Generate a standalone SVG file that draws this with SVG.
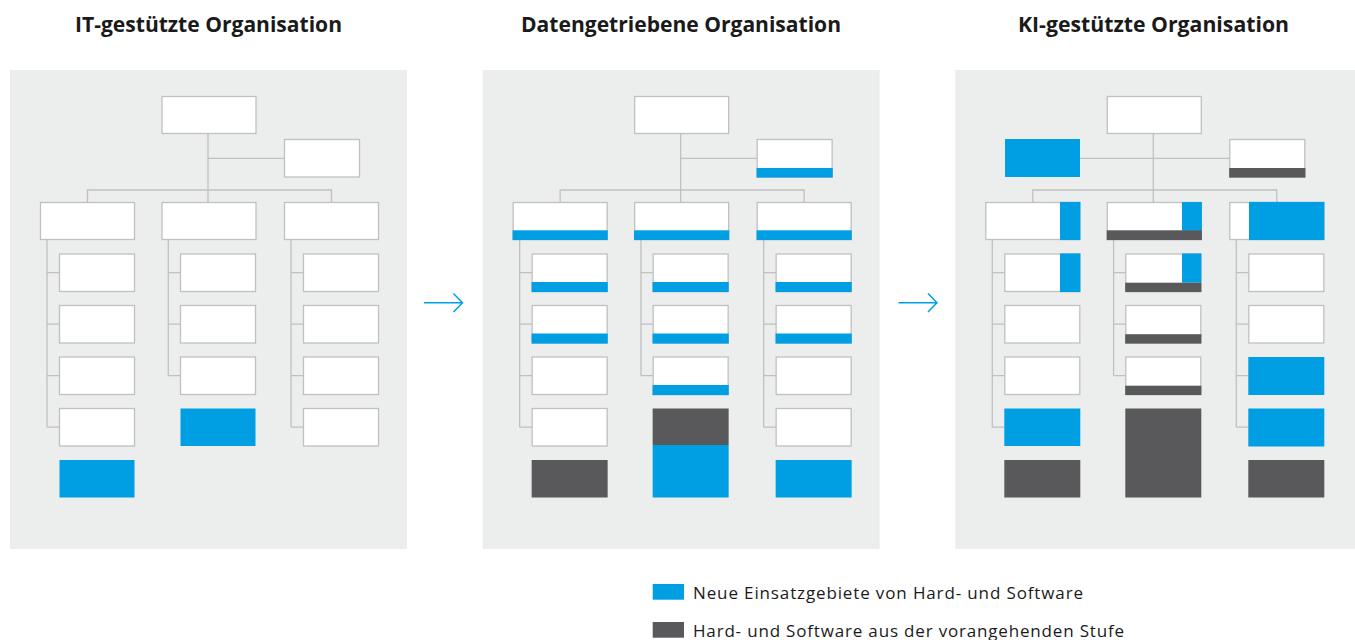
<svg xmlns="http://www.w3.org/2000/svg" width="1355" height="640" viewBox="0 0 1355 640">
<style>
.bg{fill:#eceded}
.b{fill:#fff;stroke:#c0c0c0;stroke-width:1.3}
.bl{fill:#009fe3}
.dk{fill:#59595b}
.ln{fill:none;stroke:#c0c0c0;stroke-width:1.3}
.t{font-family:"Open Sans","Noto Sans","Liberation Sans",sans-serif;font-weight:bold;font-size:20.5px;fill:#1a1a1a}
.lg{font-family:"Open Sans","Noto Sans","Liberation Sans",sans-serif;font-size:17px;fill:#1a1a1a}
.ar{fill:none;stroke:#009fe3;stroke-width:1.5}
</style>
<text class="t" x="75" y="32" textLength="267" lengthAdjust="spacingAndGlyphs">IT-gestützte Organisation</text>
<text class="t" x="521" y="32" textLength="320" lengthAdjust="spacingAndGlyphs">Datengetriebene Organisation</text>
<text class="t" x="1018" y="32" textLength="271" lengthAdjust="spacingAndGlyphs">KI-gestützte Organisation</text>

<!-- Panel 1 -->
<g id="panel1">
<rect class="bg" x="10" y="70" width="397" height="479"/>
<g class="connectors">
<path class="ln" d="M208 133.5V202.5M208 158.3H284.5M87.5 202.5V190H331.5V202.5M47 239.5V427.2M47 272.7H59.5M47 324.2H59.5M47 375.7H59.5M47 427.2H59.5M168.3 239.5V375.7M168.3 272.7H180.5M168.3 324.2H180.5M168.3 375.7H180.5M291 239.5V427.2M291 272.7H303.5M291 324.2H303.5M291 375.7H303.5M291 427.2H303.5"/>
</g>
<g id="p1-top"><rect class="b" x="162" y="96.5" width="94" height="37"/></g>
<g id="p1-side"><rect class="b" x="284.5" y="139.5" width="75" height="37.5"/></g>
<g id="p1-a"><rect class="b" x="40.5" y="202.5" width="94" height="37"/></g>
<g id="p1-b"><rect class="b" x="162" y="202.5" width="94" height="37"/></g>
<g id="p1-c"><rect class="b" x="284.5" y="202.5" width="94" height="37"/></g>
<g id="p1-a1"><rect class="b" x="59.5" y="254" width="75" height="37.5"/></g>
<g id="p1-a2"><rect class="b" x="59.5" y="305.5" width="75" height="37.5"/></g>
<g id="p1-a3"><rect class="b" x="59.5" y="357" width="75" height="37.5"/></g>
<g id="p1-a4"><rect class="b" x="59.5" y="408.5" width="75" height="37.5"/></g>
<g id="p1-a5"><rect class="bl" x="59.5" y="460" width="75" height="37.5"/></g>
<g id="p1-b1"><rect class="b" x="180.5" y="254" width="75" height="37.5"/></g>
<g id="p1-b2"><rect class="b" x="180.5" y="305.5" width="75" height="37.5"/></g>
<g id="p1-b3"><rect class="b" x="180.5" y="357" width="75" height="37.5"/></g>
<g id="p1-b4"><rect class="bl" x="180.5" y="408.5" width="75" height="37.5"/></g>
<g id="p1-c1"><rect class="b" x="303.5" y="254" width="75" height="37.5"/></g>
<g id="p1-c2"><rect class="b" x="303.5" y="305.5" width="75" height="37.5"/></g>
<g id="p1-c3"><rect class="b" x="303.5" y="357" width="75" height="37.5"/></g>
<g id="p1-c4"><rect class="b" x="303.5" y="408.5" width="75" height="37.5"/></g>
</g>

<g id="arrow1"><path class="ar" d="M424 302.7H462.5M453.5 293.5L462.5 302.7L453.5 312"/></g>
<g id="arrow2"><path class="ar" d="M898.5 302.7H937M928 293.5L937 302.7L928 312"/></g>

<!-- Panel 2 -->
<g id="panel2" transform="translate(472.65,0)">
<rect class="bg" x="10" y="70" width="397" height="479"/>
<g class="connectors">
<path class="ln" d="M208 133.5V202.5M208 158.3H284.5M87.5 202.5V190H331.5V202.5M47 239.5V427.2M47 272.7H59.5M47 324.2H59.5M47 375.7H59.5M47 427.2H59.5M168.3 239.5V375.7M168.3 272.7H180.5M168.3 324.2H180.5M168.3 375.7H180.5M291 239.5V427.2M291 272.7H303.5M291 324.2H303.5M291 375.7H303.5M291 427.2H303.5"/>
</g>
<g id="p2-top"><rect class="b" x="162" y="96.5" width="94" height="37"/></g>
<g id="p2-side"><rect class="b" x="284.5" y="139.5" width="75" height="37.5"/><rect class="bl" x="283.9" y="168" width="76.2" height="9.6"/></g>
<g id="p2-a"><rect class="b" x="40.5" y="202.5" width="94" height="37"/><rect class="bl" x="39.9" y="230.3" width="95.2" height="9.8"/></g>
<g id="p2-b"><rect class="b" x="162" y="202.5" width="94" height="37"/><rect class="bl" x="161.4" y="230.3" width="95.2" height="9.8"/></g>
<g id="p2-c"><rect class="b" x="284.5" y="202.5" width="94" height="37"/><rect class="bl" x="283.9" y="230.3" width="95.2" height="9.8"/></g>
<g id="p2-a1"><rect class="b" x="59.5" y="254" width="75" height="37.5"/><rect class="bl" x="58.9" y="282" width="76.2" height="10.1"/></g>
<g id="p2-a2"><rect class="b" x="59.5" y="305.5" width="75" height="37.5"/><rect class="bl" x="58.9" y="333.5" width="76.2" height="10.1"/></g>
<g id="p2-a3"><rect class="b" x="59.5" y="357" width="75" height="37.5"/></g>
<g id="p2-a4"><rect class="b" x="59.5" y="408.5" width="75" height="37.5"/></g>
<g id="p2-a5"><rect class="dk" x="59" y="460" width="76" height="37.5"/></g>
<g id="p2-b1"><rect class="b" x="180.5" y="254" width="75" height="37.5"/><rect class="bl" x="179.9" y="282" width="76.2" height="10.1"/></g>
<g id="p2-b2"><rect class="b" x="180.5" y="305.5" width="75" height="37.5"/><rect class="bl" x="179.9" y="333.5" width="76.2" height="10.1"/></g>
<g id="p2-b3"><rect class="b" x="180.5" y="357" width="75" height="37.5"/><rect class="bl" x="179.9" y="385" width="76.2" height="10.1"/></g>
<g id="p2-b4"><rect class="dk" x="180" y="408.5" width="76" height="36.5"/><rect class="bl" x="180" y="445" width="76" height="52.5"/></g>
<g id="p2-c1"><rect class="b" x="303.5" y="254" width="75" height="37.5"/><rect class="bl" x="302.9" y="282" width="76.2" height="10.1"/></g>
<g id="p2-c2"><rect class="b" x="303.5" y="305.5" width="75" height="37.5"/><rect class="bl" x="302.9" y="333.5" width="76.2" height="10.1"/></g>
<g id="p2-c3"><rect class="b" x="303.5" y="357" width="75" height="37.5"/></g>
<g id="p2-c4"><rect class="b" x="303.5" y="408.5" width="75" height="37.5"/></g>
<g id="p2-c5"><rect class="bl" x="303" y="460" width="76" height="37.5"/></g>
</g>

<!-- Panel 3 -->
<g id="panel3" transform="translate(945.3,0)">
<rect class="bg" x="10" y="70" width="400" height="479"/>
<g class="connectors">
<path class="ln" d="M208 133.5V202.5M134.7 158.3H284.5M87.5 202.5V190H331.5V202.5M47 239.5V427.2M47 272.7H59.5M47 324.2H59.5M47 375.7H59.5M47 427.2H59.5M168.3 239.5V375.7M168.3 272.7H180.5M168.3 324.2H180.5M168.3 375.7H180.5M291 239.5V427.2M291 272.7H303.5M291 324.2H303.5M291 375.7H303.5M291 427.2H303.5"/>
</g>
<g id="p3-top"><rect class="b" x="162" y="96.5" width="94" height="37"/></g>
<g id="p3-new"><rect class="bl" x="59.7" y="139" width="75" height="38"/></g>
<g id="p3-side"><rect class="b" x="284.5" y="139.5" width="75" height="37.5"/><rect class="dk" x="283.9" y="168" width="76.2" height="9.6"/></g>
<g id="p3-a"><rect class="b" x="40.5" y="202.5" width="94" height="37"/><rect class="bl" x="114.7" y="201.9" width="20.4" height="38.2"/></g>
<g id="p3-b"><rect class="b" x="162" y="202.5" width="94" height="37"/><rect class="bl" x="236.7" y="202" width="19.9" height="28.8"/><rect class="dk" x="161.4" y="230.3" width="95.2" height="9.8"/></g>
<g id="p3-c"><rect class="b" x="284.5" y="202.5" width="94" height="37"/><rect class="bl" x="303.7" y="201.9" width="75.4" height="38.2"/></g>
<g id="p3-a1"><rect class="b" x="59.5" y="254" width="75" height="37.5"/><rect class="bl" x="114.7" y="253.4" width="20.4" height="38.7"/></g>
<g id="p3-a2"><rect class="b" x="59.5" y="305.5" width="75" height="37.5"/></g>
<g id="p3-a3"><rect class="b" x="59.5" y="357" width="75" height="37.5"/></g>
<g id="p3-a4"><rect class="bl" x="59" y="408.5" width="76" height="37.5"/></g>
<g id="p3-a5"><rect class="dk" x="59" y="460" width="76" height="37.5"/></g>
<g id="p3-b1"><rect class="b" x="180.5" y="254" width="75" height="37.5"/><rect class="bl" x="236.7" y="253.4" width="19.4" height="29.3"/><rect class="dk" x="179.9" y="282.7" width="76.2" height="9.4"/></g>
<g id="p3-b2"><rect class="b" x="180.5" y="305.5" width="75" height="37.5"/><rect class="dk" x="179.9" y="334.2" width="76.2" height="9.4"/></g>
<g id="p3-b3"><rect class="b" x="180.5" y="357" width="75" height="37.5"/><rect class="dk" x="179.9" y="385.7" width="76.2" height="9.4"/></g>
<g id="p3-b4"><rect class="dk" x="180" y="408.5" width="76" height="89"/></g>
<g id="p3-c1"><rect class="b" x="303.5" y="254" width="75" height="37.5"/></g>
<g id="p3-c2"><rect class="b" x="303.5" y="305.5" width="75" height="37.5"/></g>
<g id="p3-c3"><rect class="bl" x="303" y="357" width="76" height="38"/></g>
<g id="p3-c4"><rect class="bl" x="303" y="408.5" width="76" height="38"/></g>
<g id="p3-c5"><rect class="dk" x="303" y="460" width="76" height="37.5"/></g>
</g>

<!-- Legend -->
<g id="legend">
<rect class="bl" x="652.7" y="584" width="31.3" height="15.7"/>
<text class="lg" x="693" y="599" textLength="390" lengthAdjust="spacing">Neue Einsatzgebiete von Hard- und Software</text>
<rect class="dk" x="652.7" y="622" width="31.3" height="15.7"/>
<text class="lg" x="693" y="637" textLength="431" lengthAdjust="spacing">Hard- und Software aus der vorangehenden Stufe</text>
</g>
</svg>
